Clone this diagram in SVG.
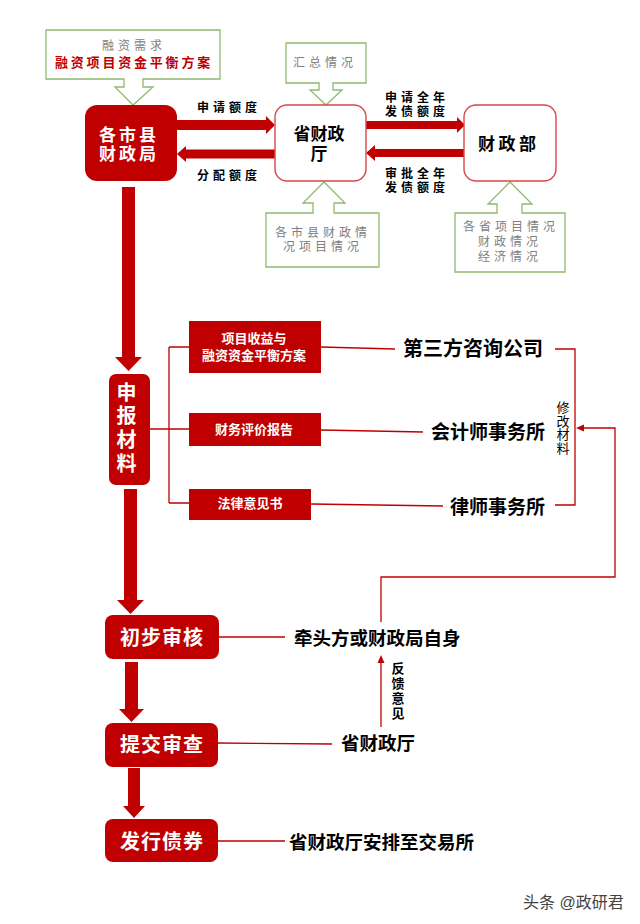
<svg xmlns="http://www.w3.org/2000/svg" width="640" height="924" viewBox="0 0 640 924">
<style>
text{font-family:"Liberation Sans","Noto Sans CJK SC",sans-serif}
.call{fill:#fff;stroke:#8fb870;stroke-width:1.3}
.gray{fill:#808080;font-size:12px;letter-spacing:4px}
.lbl{fill:#000;font-size:12px;font-weight:bold;letter-spacing:4px}
.rnode{fill:#c00000}
.wnode{fill:#fff;stroke:#d9474a;stroke-width:1.4}
.wt{fill:#fff;font-weight:bold}
.bt{fill:#000;font-weight:bold}
.vert{writing-mode:vertical-rl}
.line{fill:none;stroke:#c00000;stroke-width:1.3}
.arr{fill:#c00000}
</style>
<rect width="640" height="924" fill="#fff"/>

<g id="connectors">
  <polygon class="arr" points="177,120 266,120 266,116 275,125 266,134 266,130 177,130"/>
  <polygon class="arr" points="275,149.5 186,149.5 186,146 177,154 186,162 186,158.5 275,158.5"/>
  <polygon class="arr" points="366,121 457,121 457,117 465,125 457,133 457,129 366,129"/>
  <polygon class="arr" points="464,149 375,149 375,145 366,153 375,161 375,157 464,157"/>
  <polygon class="arr" points="122,187 135,187 135,357 142,357 128.5,371 115,357 122,357"/>
  <polygon class="arr" points="124,489 137,489 137,600 144,600 130.5,614 117,600 124,600"/>
  <polygon class="arr" points="125,662 138,662 138,709 144,709 131.5,722 119,709 125,709"/>
  <polygon class="arr" points="128,768 140,768 140,806 145,806 134,818 123,806 128,806"/>
  <path class="line" d="M150,429 H189 M169,347 V503 M169,347 H189 M169,503 H189"/>
  <path class="line" d="M321,347 L395,349 M321,430 L423,432 M311,504 L443,506"/>
  <path class="line" d="M555,349 H575 V505 H555"/>
  <path class="line" d="M381,622 V577 H615 V428 H582"/>
  <polygon class="arr" points="576,428 584,424.5 584,431.5"/>
  <path class="line" d="M219,637 H285 M218,743 L332,744 M218,841 H285"/>
  <path class="line" d="M381,727 V662"/>
  <polygon class="arr" points="381,655 377.5,663 384.5,663"/>
</g>

<g id="callout-finance-need">
  <path class="call" d="M46,30 H220 V79 H143 V87 H153 L133,105 L115,87 H124 V79 H46 Z"/>
  <text><tspan class="gray" x="102" y="50">融资需求</tspan><tspan x="55" y="67" fill="#c00000" font-size="13" font-weight="bold" letter-spacing="2.8">融资项目资金平衡方案</tspan></text>
</g>

<g id="callout-summary">
  <path class="call" d="M286,43 H366 V83 H333 V90 H342 L326,105 L310,90 H319 V83 H286 Z"/>
  <text class="gray" x="293" y="67">汇总情况</text>
</g>

<g id="callout-city">
  <path class="call" d="M266,213 H313 V203 H303 L324,182 L345,203 H334 V213 H379 V267 H266 Z"/>
  <text class="gray"><tspan x="275" y="237">各市县财政情</tspan><tspan x="283" y="251">况项目情况</tspan></text>
</g>

<g id="callout-province">
  <path class="call" d="M455,213 H497 V204 H488 L510,182 L532,204 H522 V213 H565 V272 H455 Z"/>
  <text class="gray"><tspan x="463" y="231">各省项目情况</tspan><tspan x="478" y="246">财政情况</tspan><tspan x="478" y="261">经济情况</tspan></text>
</g>

<g id="node-city-finance">
  <rect class="rnode" x="85" y="105" width="92" height="76" rx="12"/>
  <text class="wt" font-size="17" letter-spacing="3"><tspan x="99" y="141">各市县</tspan><tspan x="99" y="160">财政局</tspan></text>
</g>

<g id="label-apply">
  <text class="lbl" x="197" y="112">申请额度</text>
  <text class="lbl" x="197" y="180">分配额度</text>
  <text class="lbl"><tspan x="385" y="102">申请全年</tspan><tspan x="385" y="116">发债额度</tspan></text>
  <text class="lbl"><tspan x="385" y="178">审批全年</tspan><tspan x="385" y="191.5">发债额度</tspan></text>
</g>

<g id="node-province">
  <rect class="wnode" x="275" y="105" width="91" height="76" rx="12"/>
  <text class="bt" font-size="17" text-anchor="middle"><tspan x="319" y="140">省财政</tspan><tspan x="319" y="160">厅</tspan></text>
</g>

<g id="node-ministry">
  <rect class="wnode" x="464" y="105" width="92" height="76" rx="12"/>
  <text class="bt" x="478" y="150" font-size="17" letter-spacing="3.5">财政部</text>
</g>

<g id="node-materials">
  <rect class="rnode" x="109" y="374" width="41" height="111" rx="7"/>
  <text class="wt vert" x="125" y="382" font-size="20" letter-spacing="3.7">申报材料</text>
</g>

<g id="node-plan">
  <rect class="rnode" x="189" y="321" width="132" height="52"/>
  <text class="wt" font-size="13" text-anchor="middle"><tspan x="254" y="342.5">项目收益与</tspan><tspan x="254" y="359.5">融资资金平衡方案</tspan></text>
</g>
<g id="node-report">
  <rect class="rnode" x="189" y="413" width="132" height="33"/>
  <text class="wt" x="254" y="433.5" font-size="13" text-anchor="middle">财务评价报告</text>
</g>
<g id="node-legal">
  <rect class="rnode" x="189" y="489" width="122" height="31"/>
  <text class="wt" x="250" y="508" font-size="13" text-anchor="middle">法律意见书</text>
</g>

<g id="node-consult">
  <text class="bt" x="403" y="356" font-size="20">第三方咨询公司</text>
</g>
<g id="node-accounting">
  <text class="bt" x="431" y="439" font-size="19">会计师事务所</text>
</g>
<g id="node-law">
  <text class="bt" x="450" y="514" font-size="19">律师事务所</text>
</g>

<g id="label-revise">
  <text class="vert" x="562" y="400.5" font-size="13" fill="#000" letter-spacing="0.7">修改材料</text>
</g>

<g id="node-prelim">
  <rect class="rnode" x="105" y="615" width="114" height="44" rx="8"/>
  <text class="wt" x="162" y="645" font-size="20" text-anchor="middle" letter-spacing="1">初步审核</text>
</g>
<g id="node-lead">
  <text class="bt" x="294" y="645" font-size="18.5">牵头方或财政局自身</text>
</g>

<g id="label-feedback">
  <text class="vert" x="397" y="661.5" font-size="13" font-weight="bold" fill="#000" letter-spacing="2">反馈意见</text>
</g>

<g id="node-submit">
  <rect class="rnode" x="105" y="723" width="113" height="44" rx="8"/>
  <text class="wt" x="162" y="752" font-size="20" text-anchor="middle" letter-spacing="1">提交审查</text>
</g>
<g id="node-province2">
  <text class="bt" x="341" y="750" font-size="18.5">省财政厅</text>
</g>

<g id="node-issue">
  <rect class="rnode" x="105" y="819" width="113" height="43" rx="8"/>
  <text class="wt" x="162" y="849" font-size="20" text-anchor="middle" letter-spacing="1">发行债券</text>
</g>
<g id="node-exchange">
  <text class="bt" x="289" y="849" font-size="18.5">省财政厅安排至交易所</text>
</g>

<g id="watermark">
  <text x="523" y="908" font-size="16" fill="#444">头条 @政研君</text>
</g>
</svg>
